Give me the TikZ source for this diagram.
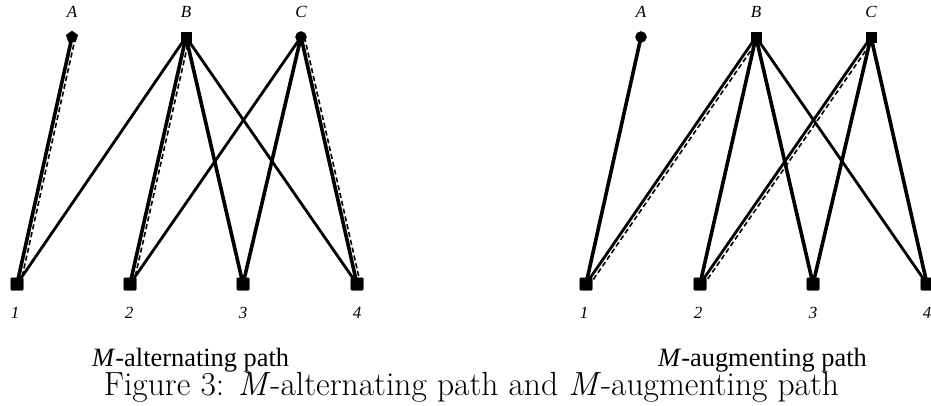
\documentclass[tikz,border=0pt]{standalone}
\usepackage{fontspec}
\newfontfamily\tms{Liberation Serif}
\usetikzlibrary{shapes.geometric}
\begin{document}
\begin{tikzpicture}[x=1pt,y=-1pt,
  vsq/.style={draw,fill,rectangle,rounded corners=1pt,minimum size=12.5pt,inner sep=0pt},
  vtop/.style={draw,fill,rectangle,minimum size=10.5pt,inner sep=0pt},
  vcirc/.style={draw,fill,circle,minimum size=11pt,inner sep=0pt},
  vpent/.style={draw,fill,regular polygon,regular polygon sides=5,minimum size=12pt,inner sep=0pt},
  lab/.style={font=\tms\itshape\fontsize{17}{17}\selectfont,inner sep=0pt},
  thk/.style={line width=3.6pt},
  thn/.style={line width=2.8pt},
  dsh/.style={line width=1.6pt,dash pattern=on 5pt off 3pt},
  subcap/.style={font=\tms\fontsize{26.4}{26.4}\selectfont,inner sep=0pt},
]
\useasboundingbox (0,0) rectangle (931,406);
% left graph
\node[vpent] (lA) at (72,37) {};
\node[vtop] (lB) at (186,37) {};
\node[vcirc] (lC) at (301,37) {};
\node[vsq] (l1) at (17,284) {};
\node[vsq] (l2) at (130,284) {};
\node[vsq] (l3) at (243,284) {};
\node[vsq] (l4) at (357,284) {};
\node[lab] (tlA) at (72,12) {A};
\node[lab] (tlB) at (186,12) {B};
\node[lab] (tlC) at (301,12) {C};
\node[lab] (bl1) at (15,313) {1};
\node[lab] (bl2) at (129,313) {2};
\node[lab] (bl3) at (243,313) {3};
\node[lab] (bl4) at (357,313) {4};
\draw[thn] (lB.center) -- (l1.center);
\draw[thn] (lB.center) -- (l4.center);
\draw[thn] (lC.center) -- (l2.center);
\draw[thk] (lA.center) -- (l1.center);
\draw[thk] (lB.center) -- (l2.center);
\draw[thk] (lB.center) -- (l3.center);
\draw[thk] (lC.center) -- (l3.center);
\draw[thk] (lC.center) -- (l4.center);
\draw[dsh] ([xshift=3.5pt]lA.center) -- ([xshift=3.5pt]l1.center);
\draw[dsh] ([xshift=3.5pt]lB.center) -- ([xshift=3.5pt]l2.center);
\draw[dsh] ([xshift=3.5pt]lC.center) -- ([xshift=3.5pt]l4.center);
% right graph
\node[vcirc] (rA) at (641,37) {};
\node[vtop] (rB) at (756,37) {};
\node[vtop] (rC) at (871,37) {};
\node[vsq] (r1) at (586,284) {};
\node[vsq] (r2) at (700,284) {};
\node[vsq] (r3) at (813,284) {};
\node[vsq] (r4) at (927,284) {};
\node[lab] (trA) at (641,12) {A};
\node[lab] (trB) at (756,12) {B};
\node[lab] (trC) at (871,12) {C};
\node[lab] (br1) at (584,313) {1};
\node[lab] (br2) at (698,313) {2};
\node[lab] (br3) at (813,313) {3};
\node[lab] (br4) at (927,313) {4};
\draw[thn] (rB.center) -- (r1.center);
\draw[thn] (rB.center) -- (r4.center);
\draw[thn] (rC.center) -- (r2.center);
\draw[thk] (rA.center) -- (r1.center);
\draw[thk] (rB.center) -- (r2.center);
\draw[thk] (rB.center) -- (r3.center);
\draw[thk] (rC.center) -- (r3.center);
\draw[thk] (rC.center) -- (r4.center);
\draw[dsh] ([xshift=3.5pt,yshift=-1pt]rB.center) -- ([xshift=3.5pt,yshift=-1pt]r1.center);
\draw[dsh] ([xshift=3.5pt,yshift=-1pt]rC.center) -- ([xshift=3.5pt,yshift=-1pt]r2.center);
% captions
\node[subcap,anchor=base west] (capL) at (92,366) {\textit{M}-alternating path};
\node[subcap,anchor=base east] (capR) at (867,366) {\textit{M}-augmenting path};
\node[inner sep=0pt,anchor=base,font=\fontsize{33.5}{33.5}\selectfont] (fig) at (471.5,395) {Figure 3: \textit{M}-alternating path and \textit{M}-augmenting path};
\end{tikzpicture}
\end{document}
